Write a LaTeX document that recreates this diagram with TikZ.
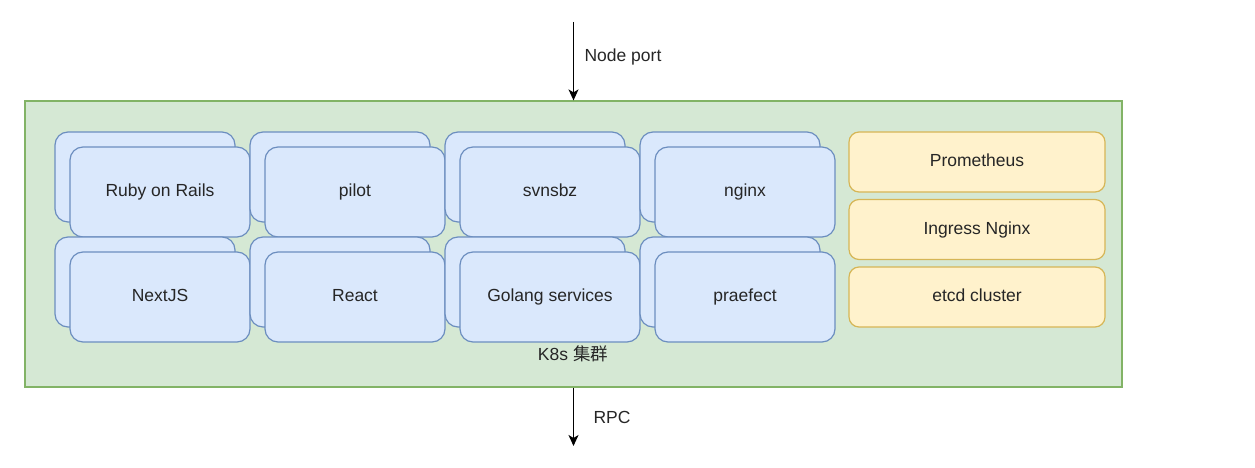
\documentclass[tikz,border=0pt]{standalone}
\usepackage{fontspec}
\setmainfont{Liberation Sans}
\newfontfamily\cjk{Noto Sans CJK SC}
\usepackage{xcolor}
\usetikzlibrary{arrows.meta}
\definecolor{k8s-fill}{HTML}{D5E8D4}
\definecolor{k8s-line}{HTML}{82B366}
\definecolor{pod-fill}{HTML}{DAE8FC}
\definecolor{pod-line}{HTML}{6C8EBF}
\definecolor{sys-fill}{HTML}{FFF2CC}
\definecolor{sys-line}{HTML}{D6B656}
\definecolor{label-text}{HTML}{262626}
\tikzset{
    diagram-text/.style = {font=\fontsize{17.5}{21}\selectfont, text=label-text},
    cluster-box/.style = {draw=k8s-line, fill=k8s-fill, line width=1.2pt, rectangle, inner sep=0pt},
    pod-box/.style = {diagram-text, draw=pod-line, fill=pod-fill, line width=1.2pt, rectangle, rounded corners=13pt, minimum width=180pt, minimum height=90pt, inner sep=0pt, text height=13pt, text depth=4pt},
    sys-box/.style = {diagram-text, draw=sys-line, fill=sys-fill, line width=1.2pt, rectangle, rounded corners=10pt, minimum width=256pt, minimum height=60pt, inner sep=0pt, text height=13pt, text depth=4pt},
    flow-arrow/.style = {line width=1.4pt, -{Stealth[length=11pt,width=10pt,inset=3pt]}},
}

\begin{document}
\begin{tikzpicture}[x=1pt, y=-1pt]
\useasboundingbox (0,0) rectangle (1255,468);
% cluster
\node [cluster-box, minimum width=1097pt, minimum height=286pt] (k8s) at (573.5,244) {};
\node [diagram-text] (k8s-label) at (573,354) {K8s {\cjk 集群}};
% replicated services (two copies each)
\foreach \name/\text/\col/\row in {rails/Ruby on Rails/0/0, pilot/pilot/1/0, svnsbz/svnsbz/2/0, nginx/nginx/3/0,
    nextjs/NextJS/0/1, react/React/1/1, golang/Golang services/2/1, praefect/praefect/3/1} {
    \node [pod-box] (\name-back) at (145+195*\col, 177+105*\row) {};
    \node [pod-box] (\name) at (160+195*\col, 192+105*\row) {\text};
}
% cluster services
\node [sys-box] (prometheus) at (977,162) {Prometheus};
\node [sys-box] (ingress) at (977,229.5) {Ingress Nginx};
\node [sys-box] (etcd) at (977,297) {etcd cluster};
% traffic in and out
\coordinate (entry) at (573.5,22);
\coordinate (exit) at (573.5,446);
\draw [flow-arrow] (entry) -- (k8s.north);
\draw [flow-arrow] (k8s.south) -- (exit);
\node [diagram-text, anchor=west] (node-port) at (581,57) {Node port};
\node [diagram-text, anchor=west] (rpc) at (590,417) {RPC};
\end{tikzpicture}
\end{document}
